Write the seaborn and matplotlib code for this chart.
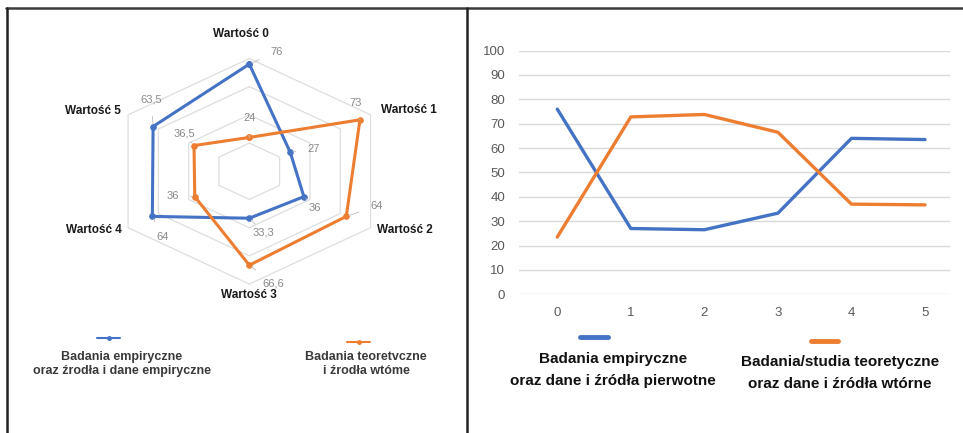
import numpy as np
import pandas as pd
import matplotlib
matplotlib.use('Agg')
import matplotlib.pyplot as plt
from matplotlib.lines import Line2D
import seaborn as sns

sns.set_style('white')
plt.rcParams['font.family'] = ['Liberation Sans', 'DejaVu Sans']
NARROW = ['Liberation Sans Narrow', 'Liberation Sans', 'DejaVu Sans']

# --- data: radar chart (left) ---
categories = ['Wartość 0', 'Wartość 1', 'Wartość 2', 'Wartość 3', 'Wartość 4', 'Wartość 5']
radar_emp = [76, 27, 36, 33.3, 64, 63.5]
radar_teo = [24, 73, 64, 66.6, 36, 36.5]
radar_rings = [20, 40, 60, 80]
legend_left = ['Badania empiryczne\noraz źrodła i dane empiryczne',
               'Badania teoretvczne\ni źrodła wtóme']

# --- data: line chart (right) ---
line_x = [0, 1, 2, 3, 4, 5]
line_emp = [76, 27, 26.5, 33.3, 64, 63.5]
line_teo = [23.5, 72.8, 73.8, 66.5, 37, 36.7]
legend_right = ['Badania empiryczne\noraz dane i źródła pierwotne',
                'Badania/studia teoretyczne\noraz dane i źródła wtórne']

BLUE = '#4472C4'
ORANGE = '#ED7D31'
W, H = 963, 433


def fx(px):
    return px / W


def fy(py):
    return 1 - py / H


fig = plt.figure(figsize=(W / 100, H / 100), dpi=100)

# ---------------- radar ----------------
ax1 = fig.add_axes([0.0772, 0.2788, 0.3634, 0.6513])
ax1.set_xlim(-100, 100)
ax1.set_ylim(-100, 100)
ax1.axis('off')

ang = np.deg2rad(90 - 60 * np.arange(len(categories)))
ang_c = np.append(ang, ang[0])

for r in radar_rings:
    ax1.plot(r * np.cos(ang_c), r * np.sin(ang_c), color='#dedede', lw=0.9, zorder=1)

# label offsets in pixels (dx, dy down)
offs_emp = [(27, -12), (23, -3), (11, 11), (14, 14), (10, 21), (-2, -27)]
offs_teo = [(0, -19), (-4, -17), (30, -10), (24, 18), (-22, -1), (-10, -12)]

for vals, col, offs in [(radar_emp, BLUE, offs_emp), (radar_teo, ORANGE, offs_teo)]:
    v = np.array(vals + [vals[0]])
    sns.lineplot(x=v * np.cos(ang_c), y=v * np.sin(ang_c), sort=False, estimator=None,
                 color=col, lw=2.2, marker='o', markersize=4, markeredgecolor=col, ax=ax1,
                 zorder=3)
    for val, a, (dx, dy) in zip(vals, ang, offs):
        ax1.annotate(f'{val:g}'.replace('.', ','), xy=(val * np.cos(a), val * np.sin(a)),
                     xytext=(dx, -dy), textcoords='offset pixels', ha='center', va='center',
                     color='#8a8a8a', fontsize=8,
                     arrowprops=dict(arrowstyle='-', color='#c4c4c4', lw=0.7,
                                     shrinkA=6, shrinkB=2))

label_r = [97, 87, 84, 88, 84, 85]
label_ha = ['center', 'left', 'left', 'center', 'right', 'right']
for name, a, r, ha in zip(categories, ang, label_r, label_ha):
    ax1.text(r * np.cos(a) - (5 if ha == 'center' and a > 0 else 0), r * np.sin(a), name,
             ha=ha, va='center', fontsize=8.5, fontweight='bold', color='#1a1a1a')

# left legend
fig.add_artist(Line2D([fx(97), fx(120)], [fy(338), fy(338)], color=BLUE, lw=1.5,
                      transform=fig.transFigure))
fig.add_artist(Line2D([fx(108.5)], [fy(338)], color=BLUE, marker='o', markersize=2.5,
                      transform=fig.transFigure))
fig.add_artist(Line2D([fx(347), fx(370)], [fy(342), fy(342)], color=ORANGE, lw=1.5,
                      transform=fig.transFigure))
fig.add_artist(Line2D([fx(358.5)], [fy(342)], color=ORANGE, marker='o', markersize=2.5,
                      transform=fig.transFigure))
fig.text(fx(122), fy(364), legend_left[0], ha='center', va='center', fontsize=9,
         fontweight='bold', color='#3a3a3a', linespacing=1.3)
fig.text(fx(366), fy(364), legend_left[1], ha='center', va='center', fontsize=9,
         fontweight='bold', color='#3a3a3a', linespacing=1.3)

# ---------------- line chart ----------------
ax2 = fig.add_axes([0.539, 0.3203, 0.4475, 0.5628])
df = pd.DataFrame({
    'x': line_x + line_x,
    'y': line_emp + line_teo,
    'seria': ['emp'] * len(line_x) + ['teo'] * len(line_x),
})
sns.lineplot(data=df, x='x', y='y', hue='seria', palette=[BLUE, ORANGE], lw=2.4,
             legend=False, ax=ax2)
ax2.set_xlim(-0.52, 5.34)
ax2.set_ylim(0, 100)
ax2.set_yticks(range(0, 101, 10))
ax2.set_xticks(line_x)
ax2.set_xlabel('')
ax2.set_ylabel('')
ax2.grid(axis='y', color='#d9d9d9', lw=1)
ax2.set_axisbelow(True)
sns.despine(ax=ax2, left=True, bottom=True)
ax2.tick_params(axis='y', length=0, pad=10, labelcolor='#595959', labelsize=9.5)
ax2.tick_params(axis='x', length=0, pad=9, labelcolor='#595959', labelsize=9.5)
for lab in ax2.get_xticklabels() + ax2.get_yticklabels():
    lab.set_fontfamily(NARROW)

# right legend
fig.add_artist(Line2D([fx(580), fx(608)], [fy(337), fy(337)], color=BLUE, lw=3.5,
                      transform=fig.transFigure))
fig.add_artist(Line2D([fx(811), fx(838)], [fy(341), fy(341)], color=ORANGE, lw=3.5,
                      transform=fig.transFigure))
fig.text(fx(613), fy(370), legend_right[0], ha='center', va='center', fontsize=11,
         fontweight='bold', color='#111111', linespacing=1.8, family=NARROW)
fig.text(fx(840), fy(373), legend_right[1], ha='center', va='center', fontsize=11,
         fontweight='bold', color='#111111', linespacing=1.8, family=NARROW)

# frame lines of the original screenshot
fig.add_artist(Line2D([fx(6), 1], [fy(8), fy(8)], color='#3c3c3c', lw=1.8,
                      transform=fig.transFigure))
fig.add_artist(Line2D([fx(7), fx(7)], [0, fy(8)], color='#222222', lw=1.8,
                      transform=fig.transFigure))
fig.add_artist(Line2D([fx(467), fx(467)], [0, fy(8)], color='#222222', lw=1.8,
                      transform=fig.transFigure))

fig.savefig('out.png', dpi=100)
